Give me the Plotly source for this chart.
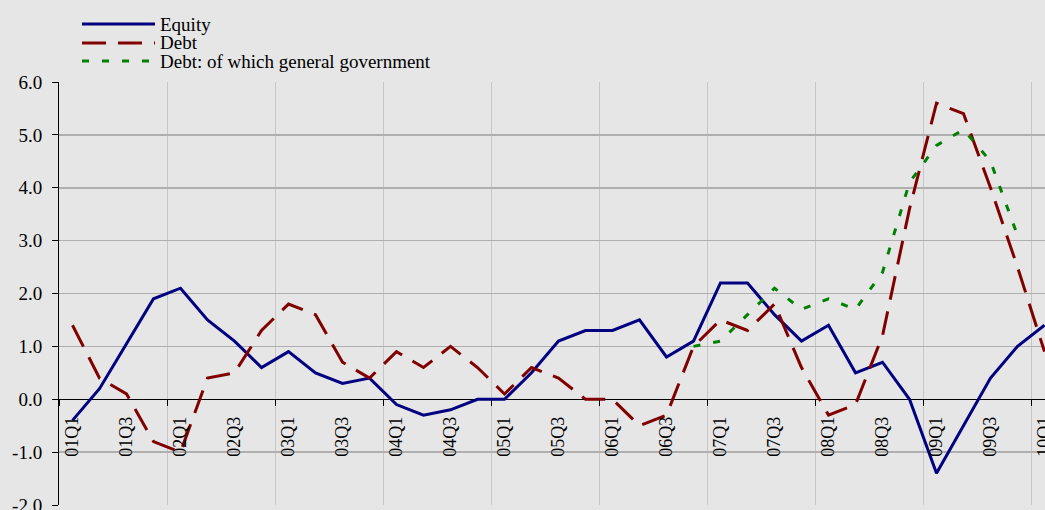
import plotly.graph_objects as go

# ---------------- data ----------------
quarters = [
    "01Q1", "01Q2", "01Q3", "01Q4", "02Q1", "02Q2", "02Q3", "02Q4",
    "03Q1", "03Q2", "03Q3", "03Q4", "04Q1", "04Q2", "04Q3", "04Q4",
    "05Q1", "05Q2", "05Q3", "05Q4", "06Q1", "06Q2", "06Q3", "06Q4",
    "07Q1", "07Q2", "07Q3", "07Q4", "08Q1", "08Q2", "08Q3", "08Q4",
    "09Q1", "09Q2", "09Q3", "09Q4", "10Q1",
]
equity = [-0.4, 0.2, 1.05, 1.9, 2.1, 1.5, 1.1, 0.6, 0.9, 0.5, 0.3, 0.4,
          -0.1, -0.3, -0.2, 0.0, 0.0, 0.5, 1.1, 1.3, 1.3, 1.5, 0.8, 1.1,
          2.2, 2.2, 1.6, 1.1, 1.4, 0.5, 0.7, 0.0, -1.4, -0.5, 0.4, 1.0, 1.4]
debt = [1.4, 0.4, 0.1, -0.8, -1.0, 0.4, 0.5, 1.3, 1.8, 1.6, 0.7, 0.4,
        0.9, 0.6, 1.0, 0.6, 0.1, 0.6, 0.4, 0.0, 0.0, -0.5, -0.3, 1.0,
        1.5, 1.3, 1.8, 0.6, -0.3, -0.1, 1.2, 3.6, 5.6, 5.4, 4.0, 2.5, 0.9]
debt_gov = [None] * 23 + [1.0, 1.1, 1.6, 2.1, 1.7, 1.9, 1.7, 2.4, 4.1,
                          4.8, 5.1, 4.5, 3.1, None]
series_names = ["Equity", "Debt", "Debt: of which general government"]
y_tickvals = [-2, -1, 0, 1, 2, 3, 4, 5, 6]
y_ticktext = ["-2.0", "-1.0", "0.0", "1.0", "2.0", "3.0", "4.0", "5.0", "6.0"]

# ---------------- styling / layout constants ----------------
W, H = 1045, 510
L, R, T, B = 59, 0, 82, 5
CAT_PX = 27  # width of one category in pixels
FONT = "Liberation Serif"
BG = "#E6E6E6"
colors = ["#000080", "#800000", "#008000"]
dashes = ["solid", "24px,12px", "7px,13px"]
ymin, ymax = -2, 6

x = list(range(len(quarters)))
plot_w = W - L - R
plot_h = H - T - B
x_range = [-0.5, -0.5 + plot_w / CAT_PX]


def px2paper_x(px):
    return (px - L) / plot_w


def px2paper_y(py):
    return (H - B - py) / plot_h


fig = go.Figure()
for name, vals, col, dsh in zip(series_names, [equity, debt, debt_gov], colors, dashes):
    fig.add_trace(go.Scatter(
        x=x, y=vals, mode="lines", name=name, showlegend=False,
        line=dict(color=col, width=3, dash=dsh),
        connectgaps=False, hoverinfo="skip",
    ))

# manual legend (long sample lines as in the original)
legend_y_px = [24, 43, 61]
shapes = []
annotations = []
for name, col, dsh, py in zip(series_names, colors, dashes, legend_y_px):
    shapes.append(dict(
        type="line", xref="paper", yref="paper",
        x0=px2paper_x(82), x1=px2paper_x(155),
        y0=px2paper_y(py), y1=px2paper_y(py),
        line=dict(color=col, width=3, dash=dsh),
    ))
    annotations.append(dict(
        text=name, xref="paper", yref="paper",
        x=px2paper_x(158), y=px2paper_y(py),
        xanchor="left", yanchor="middle", showarrow=False,
        font=dict(family=FONT, size=19, color="#000000"),
    ))

fig.update_layout(
    width=W, height=H,
    margin=dict(l=L, r=R, t=T, b=B, pad=0),
    paper_bgcolor=BG, plot_bgcolor=BG,
    font=dict(family=FONT, size=19, color="#000000"),
    shapes=shapes,
    annotations=annotations,
    xaxis=dict(
        range=x_range,
        tickmode="array", tickvals=x[::2], ticktext=quarters[::2],
        tickangle=-90, ticks="", showgrid=False, zeroline=False,
        showline=False, anchor="free",
        position=(0 - ymin) / (ymax - ymin),
        tickfont=dict(family=FONT, size=18, color="#000000"),
        ticklabelstandoff=13,
        ticklabeloverflow="allow",
        automargin=False,
        minor=dict(
            tickmode="linear", tick0=-0.5, dtick=4,
            ticks="outside", ticklen=6, tickcolor="#000000", tickwidth=1,
            showgrid=True, gridcolor="#C6C6C6", gridwidth=1,
        ),
    ),
    yaxis=dict(
        range=[ymin, ymax],
        tickmode="array", tickvals=y_tickvals, ticktext=y_ticktext,
        ticks="outside", ticklen=6, tickcolor="#000000", tickwidth=1,
        showline=True, linecolor="#000000", linewidth=1,
        showgrid=True, gridcolor="#AFAFAF", gridwidth=1.5,
        zeroline=True, zerolinecolor="#000000", zerolinewidth=1,
        tickfont=dict(family=FONT, size=19, color="#000000"),
        ticklabelstandoff=6,
        ticklabeloverflow="allow",
        automargin=False,
    ),
)

page_css = (
    "document.documentElement.style.margin='0';"
    "document.body.style.margin='0';"
    "document.body.style.padding='0';"
    "document.body.style.overflow='hidden';"
    "document.body.style.background='" + BG + "';"
)
fig.write_html("out.html", post_script=page_css,
               config={"displayModeBar": False, "staticPlot": True})
